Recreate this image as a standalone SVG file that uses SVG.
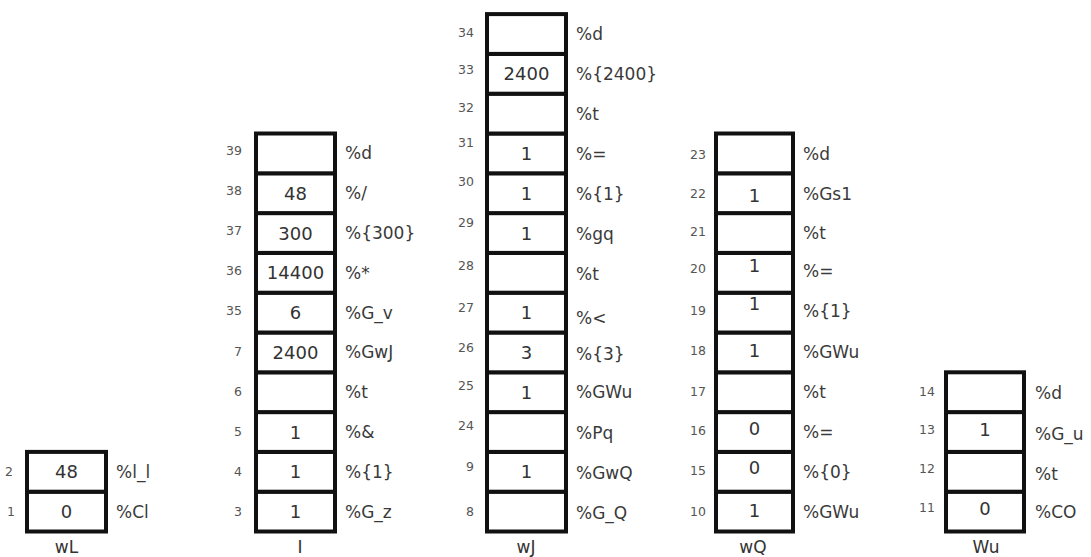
<svg xmlns="http://www.w3.org/2000/svg" width="1091" height="557" viewBox="0 0 1091 557">
<style>
rect.c{fill:#fff;stroke:#111;stroke-width:4}
text{font-family:"DejaVu Sans","Liberation Sans",sans-serif;fill:#333}
.v{font-size:18px;text-anchor:middle}
.l{font-size:17px;fill:#3a3a3a}
.n{font-size:12.5px;text-anchor:end;fill:#555}
.t{font-size:17px;text-anchor:middle}
</style>
<rect width="1091" height="557" fill="#fff"/>
<g id="stack-wL">
<g id="wL-1"><rect class="c" x="27" y="491.7" width="79" height="39.8"/><text class="n" x="15" y="515.6">1</text><text class="v" x="66.5" y="518.1">0</text><text class="l" x="116" y="517.6">%Cl</text></g>
<g id="wL-2"><rect class="c" x="27" y="451.9" width="79" height="39.8"/><text class="n" x="13" y="475.8">2</text><text class="v" x="66.5" y="478.3">48</text><text class="l" x="116" y="477.8">%l_l</text></g>
<text class="t" x="66.5" y="553">wL</text>
</g>
<g id="stack-I">
<g id="I-3"><rect class="c" x="256" y="491.7" width="79" height="39.8"/><text class="n" x="242" y="515.6">3</text><text class="v" x="295.5" y="518.1">1</text><text class="l" x="345" y="517.6">%G_z</text></g>
<g id="I-4"><rect class="c" x="256" y="451.9" width="79" height="39.8"/><text class="n" x="242" y="475.8">4</text><text class="v" x="295.5" y="478.3">1</text><text class="l" x="345" y="477.8">%{1}</text></g>
<g id="I-5"><rect class="c" x="256" y="412.1" width="79" height="39.8"/><text class="n" x="242" y="436">5</text><text class="v" x="295.5" y="438.5">1</text><text class="l" x="345" y="438">%&amp;</text></g>
<g id="I-6"><rect class="c" x="256" y="372.3" width="79" height="39.8"/><text class="n" x="242" y="396.2">6</text><text class="l" x="345" y="398.2">%t</text></g>
<g id="I-7"><rect class="c" x="256" y="332.5" width="79" height="39.8"/><text class="n" x="242" y="356.4">7</text><text class="v" x="295.5" y="358.9">2400</text><text class="l" x="345" y="358.4">%GwJ</text></g>
<g id="I-35"><rect class="c" x="256" y="292.7" width="79" height="39.8"/><text class="n" x="242" y="314.6">35</text><text class="v" x="295.5" y="319.1">6</text><text class="l" x="345" y="318.6">%G_v</text></g>
<g id="I-36"><rect class="c" x="256" y="252.9" width="79" height="39.8"/><text class="n" x="242" y="274.8">36</text><text class="v" x="295.5" y="279.3">14400</text><text class="l" x="345" y="278.8">%*</text></g>
<g id="I-37"><rect class="c" x="256" y="213.1" width="79" height="39.8"/><text class="n" x="242" y="235">37</text><text class="v" x="295.5" y="239.5">300</text><text class="l" x="345" y="239">%{300}</text></g>
<g id="I-38"><rect class="c" x="256" y="173.3" width="79" height="39.8"/><text class="n" x="242" y="195.2">38</text><text class="v" x="295.5" y="199.7">48</text><text class="l" x="345" y="199.2">%/</text></g>
<g id="I-39"><rect class="c" x="256" y="133.5" width="79" height="39.8"/><text class="n" x="242" y="155.4">39</text><text class="l" x="345" y="159.4">%d</text></g>
<text class="t" x="300" y="553">I</text>
</g>
<g id="stack-wJ">
<g id="wJ-8"><rect class="c" x="487" y="491.7" width="79" height="39.8"/><text class="n" x="474" y="515.6">8</text><text class="l" x="576" y="519">%G_Q</text></g>
<g id="wJ-9"><rect class="c" x="487" y="451.9" width="79" height="39.8"/><text class="n" x="474" y="471">9</text><text class="v" x="526.5" y="478.3">1</text><text class="l" x="576" y="479">%GwQ</text></g>
<g id="wJ-24"><rect class="c" x="487" y="412.1" width="79" height="39.8"/><text class="n" x="474" y="429.5">24</text><text class="l" x="576" y="438.5">%Pq</text></g>
<g id="wJ-25"><rect class="c" x="487" y="372.3" width="79" height="39.8"/><text class="n" x="474" y="389.5">25</text><text class="v" x="526.5" y="398.7">1</text><text class="l" x="576" y="398">%GWu</text></g>
<g id="wJ-26"><rect class="c" x="487" y="332.5" width="79" height="39.8"/><text class="n" x="474" y="352">26</text><text class="v" x="526.5" y="358.9">3</text><text class="l" x="576" y="359.5">%{3}</text></g>
<g id="wJ-27"><rect class="c" x="487" y="292.7" width="79" height="39.8"/><text class="n" x="474" y="312">27</text><text class="v" x="526.5" y="319.1">1</text><text class="l" x="576" y="324">%&lt;</text></g>
<g id="wJ-28"><rect class="c" x="487" y="252.9" width="79" height="39.8"/><text class="n" x="474" y="270">28</text><text class="l" x="576" y="280">%t</text></g>
<g id="wJ-29"><rect class="c" x="487" y="213.1" width="79" height="39.8"/><text class="n" x="474" y="227">29</text><text class="v" x="526.5" y="239.5">1</text><text class="l" x="576" y="240">%gq</text></g>
<g id="wJ-30"><rect class="c" x="487" y="173.3" width="79" height="39.8"/><text class="n" x="474" y="186">30</text><text class="v" x="526.5" y="199.7">1</text><text class="l" x="576" y="200">%{1}</text></g>
<g id="wJ-31"><rect class="c" x="487" y="133.5" width="79" height="39.8"/><text class="n" x="474" y="147">31</text><text class="v" x="526.5" y="159.9">1</text><text class="l" x="576" y="160">%=</text></g>
<g id="wJ-32"><rect class="c" x="487" y="93.7" width="79" height="39.8"/><text class="n" x="474" y="112">32</text><text class="l" x="576" y="120">%t</text></g>
<g id="wJ-33"><rect class="c" x="487" y="53.9" width="79" height="39.8"/><text class="n" x="474" y="74">33</text><text class="v" x="526.5" y="80.3">2400</text><text class="l" x="576" y="80">%{2400}</text></g>
<g id="wJ-34"><rect class="c" x="487" y="14.1" width="79" height="39.8"/><text class="n" x="474" y="37">34</text><text class="l" x="576" y="40">%d</text></g>
<text class="t" x="526" y="553">wJ</text>
</g>
<g id="stack-wQ">
<g id="wQ-10"><rect class="c" x="716" y="491.7" width="77" height="39.8"/><text class="n" x="706" y="515.6">10</text><text class="v" x="754.5" y="517">1</text><text class="l" x="803" y="517.6">%GWu</text></g>
<g id="wQ-15"><rect class="c" x="716" y="451.9" width="77" height="39.8"/><text class="n" x="706" y="475">15</text><text class="v" x="754.5" y="473.5">0</text><text class="l" x="803" y="477.8">%{0}</text></g>
<g id="wQ-16"><rect class="c" x="716" y="412.1" width="77" height="39.8"/><text class="n" x="706" y="435">16</text><text class="v" x="754.5" y="435">0</text><text class="l" x="803" y="438">%=</text></g>
<g id="wQ-17"><rect class="c" x="716" y="372.3" width="77" height="39.8"/><text class="n" x="706" y="395.5">17</text><text class="l" x="803" y="398.2">%t</text></g>
<g id="wQ-18"><rect class="c" x="716" y="332.5" width="77" height="39.8"/><text class="n" x="706" y="355">18</text><text class="v" x="754.5" y="357">1</text><text class="l" x="803" y="358.4">%GWu</text></g>
<g id="wQ-19"><rect class="c" x="716" y="292.7" width="77" height="39.8"/><text class="n" x="706" y="314.5">19</text><text class="v" x="754.5" y="310">1</text><text class="l" x="803" y="316.5">%{1}</text></g>
<g id="wQ-20"><rect class="c" x="716" y="252.9" width="77" height="39.8"/><text class="n" x="706" y="272.5">20</text><text class="v" x="754.5" y="272">1</text><text class="l" x="803" y="276.5">%=</text></g>
<g id="wQ-21"><rect class="c" x="716" y="213.1" width="77" height="39.8"/><text class="n" x="706" y="236">21</text><text class="l" x="803" y="239">%t</text></g>
<g id="wQ-22"><rect class="c" x="716" y="173.3" width="77" height="39.8"/><text class="n" x="706" y="197.5">22</text><text class="v" x="754.5" y="201.5">1</text><text class="l" x="803" y="200">%Gs1</text></g>
<g id="wQ-23"><rect class="c" x="716" y="133.5" width="77" height="39.8"/><text class="n" x="706" y="158.5">23</text><text class="l" x="803" y="160">%d</text></g>
<text class="t" x="753" y="553">wQ</text>
</g>
<g id="stack-Wu">
<g id="Wu-11"><rect class="c" x="946" y="491.7" width="78" height="39.8"/><text class="n" x="935" y="512">11</text><text class="v" x="985" y="514.5">0</text><text class="l" x="1035" y="518">%CO</text></g>
<g id="Wu-12"><rect class="c" x="946" y="451.9" width="78" height="39.8"/><text class="n" x="935" y="473">12</text><text class="l" x="1035" y="480">%t</text></g>
<g id="Wu-13"><rect class="c" x="946" y="412.1" width="78" height="39.8"/><text class="n" x="935" y="434">13</text><text class="v" x="985" y="436">1</text><text class="l" x="1035" y="440">%G_u</text></g>
<g id="Wu-14"><rect class="c" x="946" y="372.3" width="78" height="39.8"/><text class="n" x="935" y="396">14</text><text class="l" x="1035" y="399">%d</text></g>
<text class="t" x="986" y="553">Wu</text>
</g>
</svg>
